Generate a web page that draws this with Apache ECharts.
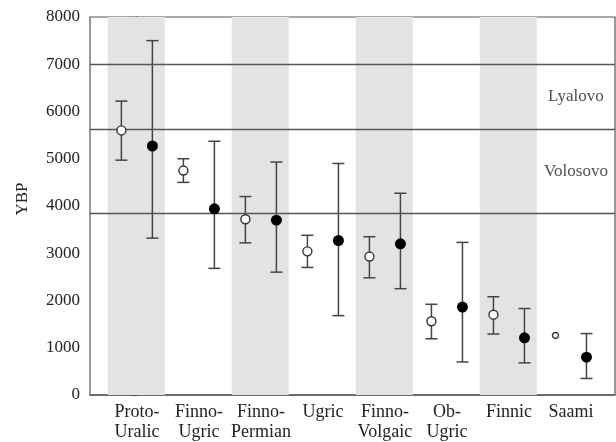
<!DOCTYPE html>
<html>
<head>
<meta charset="utf-8">
<script src="https://cdn.jsdelivr.net/npm/echarts@6/dist/echarts.min.js"></script>
<style>
  html, body { margin: 0; padding: 0; background: #fff; }
  #main { width: 616px; height: 442px; }
</style>
</head>
<body>
<div id="main"></div>
<script>
// categories and values
const categories = ['Proto-\nUralic', 'Finno-\nUgric', 'Finno-\nPermian', 'Ugric', 'Finno-\nVolgaic', 'Ob-\nUgric', 'Finnic', 'Saami'];
const openMid = [5600, 4750, 3720, 3040, 2930, 1560, 1700, 1260];
const openLow = [4970, 4500, 3220, 2700, 2480, 1190, 1290, null];
const openHigh = [6220, 5000, 4200, 3380, 3350, 1920, 2080, null];
const filledMid = [5270, 3940, 3700, 3270, 3200, 1860, 1210, 800];
const filledLow = [3320, 2680, 2600, 1680, 2250, 700, 680, 350];
const filledHigh = [7500, 5370, 4930, 4900, 4270, 3230, 1830, 1300];
const periodLines = [7000, 5620, 3850];
const periodNames = ['Lyalovo', 'Volosovo'];
const yTicks = [0, 1000, 2000, 3000, 4000, 5000, 6000, 7000, 8000];

const font = '"Liberation Serif", "DejaVu Serif", serif';
const lineCol = '#555';
const textCol = '#222';

let openPts = [], filledPts = [], bars = [], bands = [], periodPts = [];
for (let i = 0; i < categories.length; i++) {
  openPts.push([i - 0.25, openMid[i]]);
  filledPts.push([i + 0.25, filledMid[i]]);
  if (openLow[i] != null) bars.push([i - 0.25, openLow[i], openHigh[i]]);
  bars.push([i + 0.25, filledLow[i], filledHigh[i]]);
  if (i % 2 === 0) bands.push([{ xAxis: i - 0.47, yAxis: 0 }, { xAxis: i + 0.45, yAxis: 8000 }]);
}
for (let j = 0; j < periodNames.length; j++) {
  periodPts.push({ value: [7.08, (periodLines[j] + periodLines[j + 1]) / 2], name: periodNames[j] });
}

function renderBar(params, api) {
  const x = api.value(0);
  const top = api.coord([x, api.value(2)]);
  const bot = api.coord([x, api.value(1)]);
  const hw = 6;
  const st = { stroke: '#444', lineWidth: 1.5 };
  return {
    type: 'group',
    children: [
      { type: 'line', shape: { x1: top[0], y1: top[1], x2: bot[0], y2: bot[1] }, style: st },
      { type: 'line', shape: { x1: top[0] - hw, y1: top[1], x2: top[0] + hw, y2: top[1] }, style: st },
      { type: 'line', shape: { x1: bot[0] - hw, y1: bot[1], x2: bot[0] + hw, y2: bot[1] }, style: st }
    ]
  };
}

const chart = echarts.init(document.getElementById('main'));
chart.setOption({
  backgroundColor: '#fff',
  animation: false,
  grid: { left: 90, right: 1, top: 17, bottom: 47, show: true, borderColor: lineCol, borderWidth: 1.2 },
  xAxis: {
    type: 'value',
    min: -0.756,
    max: 7.71,
    axisLine: { show: true, lineStyle: { color: lineCol, width: 1.5 } },
    axisTick: { show: false },
    splitLine: { show: false },
    axisLabel: {
      customValues: categories.map((c, i) => i),
      formatter: v => categories[Math.round(v)],
      color: textCol,
      fontFamily: font,
      fontSize: 18,
      lineHeight: 20,
      margin: 7
    }
  },
  yAxis: {
    type: 'value',
    min: 0,
    max: 8000,
    interval: 1000,
    axisLine: { show: true, lineStyle: { color: lineCol, width: 1.5 } },
    axisTick: { show: true, length: 6, lineStyle: { color: lineCol, width: 1.2 } },
    splitLine: { show: false },
    axisLabel: { color: textCol, fontFamily: font, fontSize: 17, margin: 10, formatter: v => yTicks.includes(v) ? String(v) : '' }
  },
  graphic: [{
    type: 'text', x: 23, y: 199, rotation: Math.PI / 2,
    style: { text: 'YBP', font: '17px ' + font, fill: textCol, textAlign: 'center', textVerticalAlign: 'middle' }
  }],
  series: [
    {
      type: 'custom',
      renderItem: renderBar,
      data: bars,
      encode: { x: 0, y: [1, 2] },
      z: 3,
      silent: true,
      markArea: { silent: true, itemStyle: { color: '#e3e3e3' }, data: bands },
      markLine: {
        silent: true, symbol: 'none', label: { show: false },
        lineStyle: { color: lineCol, width: 1.4, type: 'solid' },
        data: periodLines.map(v => ({ yAxis: v }))
      }
    },
    {
      type: 'scatter',
      data: openPts,
      symbol: 'circle',
      symbolSize: (v, p) => p.dataIndex === 7 ? 6 : 9,
      itemStyle: { color: '#fff', borderColor: '#333', borderWidth: 1.4, opacity: 1 },
      z: 5
    },
    {
      type: 'scatter',
      data: filledPts,
      symbol: 'circle',
      symbolSize: 11,
      itemStyle: { color: '#000', opacity: 1 },
      z: 5
    },
    {
      type: 'scatter',
      data: periodPts,
      symbolSize: 0,
      silent: true,
      label: {
        show: true, position: 'inside', formatter: p => p.name,
        color: textCol, fontFamily: font, fontSize: 17
      },
      z: 6
    }
  ]
});
</script>
</body>
</html>
